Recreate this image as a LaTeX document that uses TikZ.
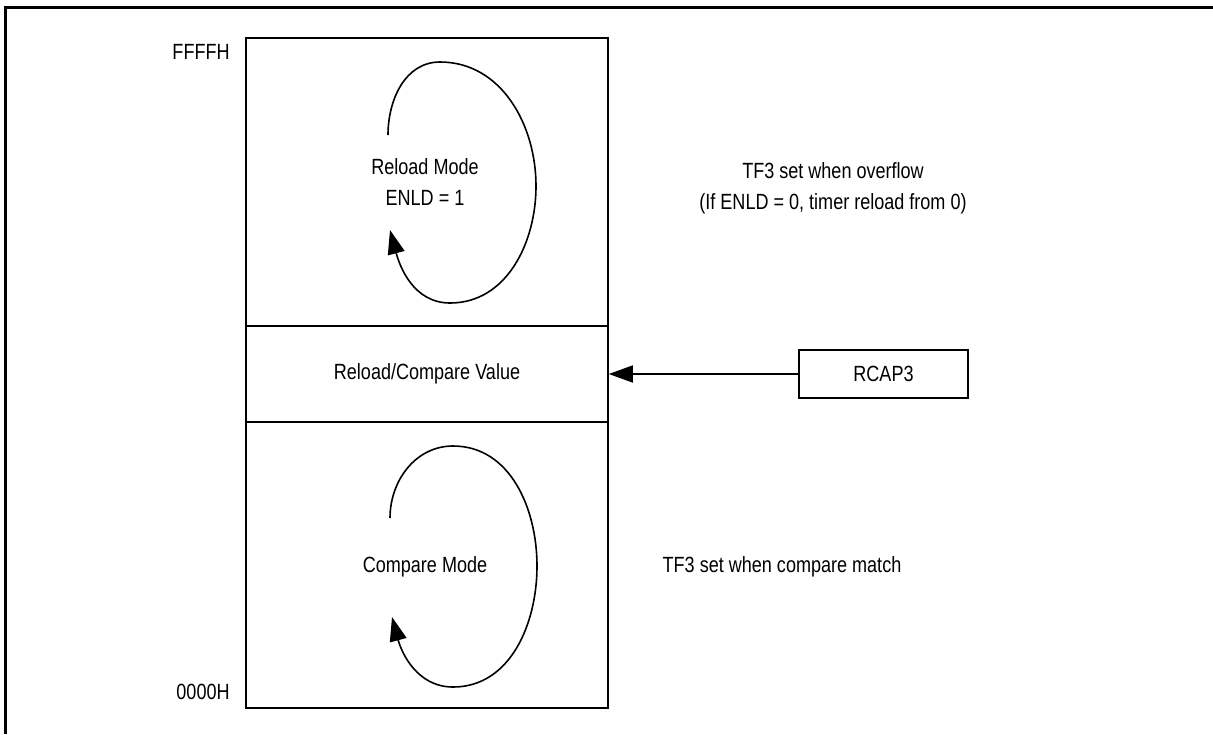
\documentclass[tikz,border=0pt]{standalone}
\usepackage{fontspec}
\setmainfont{Liberation Sans}[FakeStretch=0.82]
\usepackage{tikz}
\usetikzlibrary{positioning,arrows.meta}
\tikzset{
  membox/.style={rectangle,draw,line width=0.8pt,minimum width=181pt,inner sep=0pt},
  regbox/.style={rectangle,draw,line width=0.8pt,minimum width=84.5pt,minimum height=24pt},
  lbl/.style={font=\fontsize{11}{15.5}\selectfont,align=center,inner sep=0pt},
  loop/.style={line width=0.8pt,-{Triangle[length=12pt,width=8.5pt]}}
}
\begin{document}
\begin{tikzpicture}[x=0.5pt,y=-0.5pt]
\useasboundingbox (0,0) rectangle (1213,734);
\draw[line width=1.5pt] (5.5,734) -- (5.5,7.5) -- (1213,7.5);
% counter range
\node[membox,minimum height=144pt] (upper) at (427,182) {};
\node[membox,minimum height=48pt,lbl] (value) at (427,374) {Reload/Compare Value};
\node[membox,minimum height=143pt] (lower) at (427,565) {};
\node[lbl,anchor=east] (top) at (230,52) {FFFFH};
\node[lbl,anchor=east] (bottom) at (230,692) {0000H};
% loops
\draw[loop] (388,135) to[out=90,in=180] (440,62) to[out=0,in=90] (536,186)
  to[out=-90,in=0] (450,303) to[out=180,in=-75] (390,230);
\draw[loop] (390,518) to[out=90,in=180] (453,446) to[out=0,in=90] (537,566)
  to[out=-90,in=0] (453,687) to[out=180,in=-75] (392,617);
\node[lbl] (reload) at (425,182) {Reload Mode\\ENLD = 1};
\node[lbl] (compare) at (425,567) {Compare Mode};
% reload register
\node[regbox,lbl] (rcap) at (883.5,374) {RCAP3};
\draw[line width=0.8pt,-{Triangle[length=12pt,width=8.5pt]}] (rcap.west) -- (value.east);
\node[lbl] (ovf) at (833,188) {TF3 set when overflow\\(If ENLD = 0, timer reload from 0)};
\node[lbl] (match) at (782,567) {TF3 set when compare match};
\end{tikzpicture}
\end{document}
